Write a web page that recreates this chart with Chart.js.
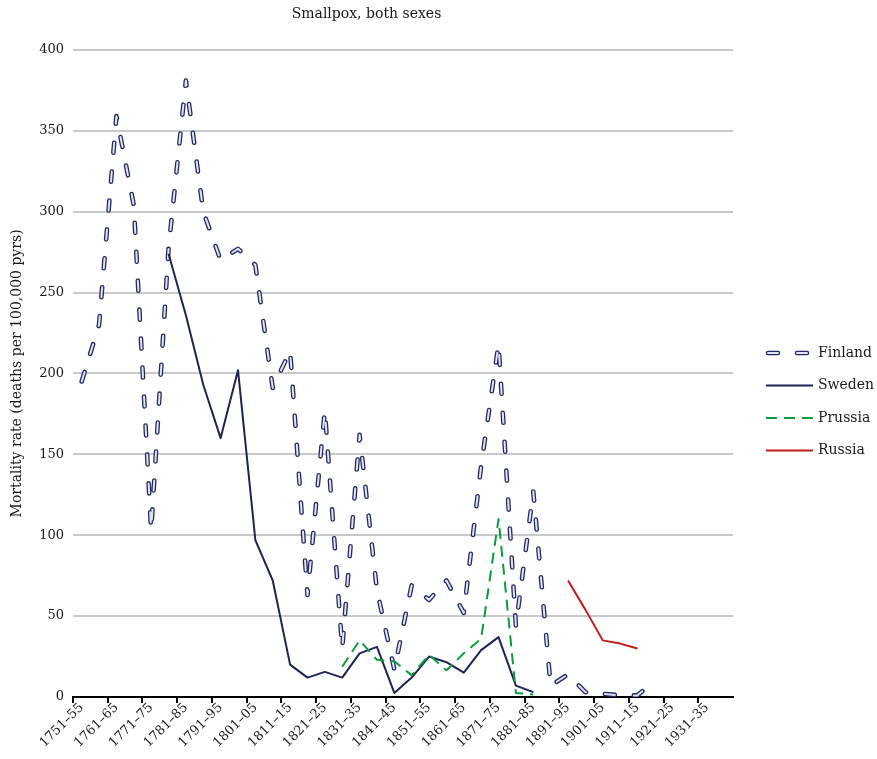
<!DOCTYPE html>
<html>
<head>
<meta charset="utf-8">
<title>Smallpox, both sexes</title>
<script src="https://cdn.jsdelivr.net/npm/chart.js@4.4.1/dist/chart.umd.min.js"></script>
<style>
  html, body { margin: 0; padding: 0; background: #ffffff; }
  #wrap { width: 877px; height: 759px; }
</style>
</head>
<body>
<div id="wrap"><canvas id="chart" width="877" height="759"></canvas></div>
<script>
/* ----------------------------------------------------------
   DATOS — periodos quinquenales y tasas por 100 000
---------------------------------------------------------- */
const PERIODS = [
  '1751–55', '1756–60', '1761–65', '1766–70', '1771–75', '1776–80',
  '1781–85', '1786–90', '1791–95', '1796–1800', '1801–05', '1806–10',
  '1811–15', '1816–20', '1821–25', '1826–30', '1831–35', '1836–40',
  '1841–45', '1846–50', '1851–55', '1856–60', '1861–65', '1866–70',
  '1871–75', '1876–80', '1881–85', '1886–90', '1891–95', '1896–1900',
  '1901–05', '1906–10', '1911–15', '1916–20', '1921–25', '1926–30',
  '1931–35', '1936–40',
];

const FINLAND = [
  195, 230, 359, 304, 103, 277, 381, 300, 270, 277,
  267, 191, 214, 63, 177, 30, 162, 66, 17, 69,
  60, 72, 52, 143, 218, 44, 127, 7, 14, 3,
  2, 1, 1, 10, null, null, null, null,
];

const SWEDEN = [
  null, null, null, null, null, 274, 236, 193, 160, 202,
  97, 72, 20, 12, 15.5, 12, 27, 31, 2.5, 12,
  25, 21.5, 15, 29, 37, 7, 3, null, null, null,
  null, null, null, null, null, null, null, null,
];

const PRUSSIA = [
  null, null, null, null, null, null, null, null, null, null,
  null, null, null, null, null, 18.7, 35, 23, 22, 13.5,
  26, 16.5, 27, 36, 110, 2.5, 1.5, null, null, null,
  null, null, null, null, null, null, null, null,
];

const RUSSIA = [
  null, null, null, null, null, null, null, null, null, null,
  null, null, null, null, null, null, null, null, null, null,
  null, null, null, null, null, null, null, null, 72, 54,
  35, 33, 30, null, null, null, null, null,
];

const Y_TICKS = [0, 50, 100, 150, 200, 250, 300, 350, 400];

/* ----------------------------------------------------------
   ESTILO
---------------------------------------------------------- */
const SERIF = "'DejaVu Serif', 'Liberation Serif', serif";
const INK   = '#1a1a1a';
const NAVY  = '#232a62';

/* ----------------------------------------------------------
   LEYENDA: muestra de línea + texto, a la derecha
---------------------------------------------------------- */
const legendLines = {
  id: 'legendLines',
  afterDraw(chart) {
    const ctx  = chart.ctx;
    const rows = [];
    chart.data.datasets.forEach(ds => {
      if (!rows.includes(ds.label)) rows.push(ds.label);
    });

    const x0 = 768, x1 = 811, tx = 818, top = 353, step = 32.5;

    chart.data.datasets.forEach(ds => {
      const y = top + rows.indexOf(ds.label) * step;
      ctx.save();
      ctx.strokeStyle = ds.borderColor;
      ctx.lineWidth   = ds.borderWidth;
      ctx.lineCap     = ds.borderCapStyle || 'butt';
      ctx.setLineDash(ds.borderDash || []);
      ctx.beginPath();
      ctx.moveTo(ds.borderCapStyle === 'round' ? x0 : x0 - 2, y);
      ctx.lineTo(x1 + 2, y);
      ctx.stroke();
      ctx.restore();
    });

    ctx.save();
    ctx.fillStyle    = INK;
    ctx.font         = '14px ' + SERIF;
    ctx.textBaseline = 'middle';
    rows.forEach((name, k) => ctx.fillText(name, tx, top + k * step));
    ctx.restore();
  },
};

/* ----------------------------------------------------------
   GRÁFICO
---------------------------------------------------------- */
const lineBase = {
  pointRadius: 0,
  pointHoverRadius: 0,
  tension: 0,
  fill: false,
  spanGaps: false,
  borderJoinStyle: 'round',
};

new Chart(document.getElementById('chart').getContext('2d'), {
  type: 'line',
  data: {
    labels: PERIODS,
    datasets: [
      { ...lineBase, label: 'Finland', data: FINLAND, order: 5,
        borderColor: NAVY, borderWidth: 4.6, borderDash: [10, 19], borderCapStyle: 'round' },
      { ...lineBase, label: 'Finland', data: FINLAND, order: 4,
        borderColor: '#e2e4f1', borderWidth: 2, borderDash: [10, 19], borderCapStyle: 'round' },
      { ...lineBase, label: 'Sweden', data: SWEDEN, order: 3,
        borderColor: '#1f2456', borderWidth: 2 },
      { ...lineBase, label: 'Prussia', data: PRUSSIA, order: 2,
        borderColor: '#0c9c3e', borderWidth: 2, borderDash: [11, 7] },
      { ...lineBase, label: 'Russia', data: RUSSIA, order: 1,
        borderColor: '#c41a1a', borderWidth: 2 },
    ],
  },
  options: {
    responsive: false,
    animation: false,
    layout: { padding: { left: 0, right: 144, top: 0, bottom: 0 } },
    plugins: {
      legend:  { display: false },
      tooltip: { enabled: false },
      title: {
        display: true,
        text: 'Smallpox, both sexes',
        color: INK,
        font: { family: SERIF, size: 14, weight: 'normal' },
        padding: { top: 6, bottom: 27 },
      },
    },
    scales: {
      x: {
        offset: true,
        grid: {
          offset: true,
          drawOnChartArea: false,
          tickLength: 6,
          lineWidth: 2,
          tickColor: c => (c.index % 2 === 0 ? '#000000' : 'rgba(0,0,0,0)'),
        },
        border: { color: '#000000', width: 2 },
        ticks: {
          autoSkip: false,
          maxRotation: 45,
          minRotation: 45,
          padding: -3,
          color: INK,
          font: { family: SERIF, size: 13 },
          callback: (v, i) => (i % 2 === 0 ? PERIODS[i] : ''),
        },
        afterFit: s => { s.height = 62; },
      },
      y: {
        min: 0,
        max: 400,
        afterBuildTicks: s => { s.ticks = Y_TICKS.map(v => ({ value: v })); },
        grid: { color: '#c9c9c9', lineWidth: 2, drawTicks: false },
        border: { display: false },
        ticks: {
          padding: 9,
          color: INK,
          font: { family: SERIF, size: 13 },
        },
        title: {
          display: true,
          text: 'Mortality rate (deaths per 100,000 pyrs)',
          color: INK,
          font: { family: SERIF, size: 14 },
          padding: { top: 9, bottom: 0 },
        },
        afterFit: s => { s.width = 73; },
      },
    },
  },
  plugins: [legendLines],
});
</script>
</body>
</html>
